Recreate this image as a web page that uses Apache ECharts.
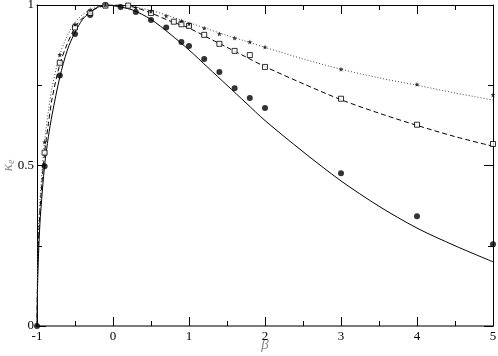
<!DOCTYPE html>
<html>
<head>
<meta charset="utf-8">
<script src="https://cdn.jsdelivr.net/npm/echarts@6/dist/echarts.min.js"></script>
<style>
	html,body{margin:0;padding:0;background:#fff;}
	#chart{width:498px;height:356px;}
</style>
</head>
<body>
<div id="chart"></div>
<script>
	// beta values used for the three theory curves
	var curveX = [-1, -0.99, -0.97, -0.95, -0.9, -0.85, -0.8, -0.7, -0.6, -0.5, -0.4, -0.3, -0.2, -0.1, 0, 0.25, 0.5, 0.75, 1, 1.25, 1.5, 1.75, 2, 2.5, 3, 3.5, 4, 4.5, 5];
	var solidY  = [0, 0.15, 0.28, 0.36, 0.50, 0.59, 0.66, 0.775, 0.86, 0.915, 0.955, 0.978, 0.993, 1.0, 0.998, 0.985, 0.955, 0.91, 0.86, 0.805, 0.75, 0.695, 0.64, 0.543, 0.452, 0.373, 0.305, 0.25, 0.20];
	var dashedY = [0, 0.20, 0.32, 0.40, 0.54, 0.63, 0.71, 0.815, 0.88, 0.93, 0.96, 0.978, 0.992, 0.998, 1.0, 0.995, 0.975, 0.95, 0.928, 0.898, 0.868, 0.838, 0.808, 0.755, 0.705, 0.663, 0.625, 0.59, 0.56];
	var dottedY = [0, 0.22, 0.35, 0.43, 0.575, 0.67, 0.745, 0.845, 0.905, 0.945, 0.97, 0.985, 0.995, 1.0, 1.0, 0.995, 0.983, 0.965, 0.945, 0.925, 0.905, 0.887, 0.868, 0.832, 0.80, 0.773, 0.75, 0.726, 0.704];

	// simulation points
	var circleX = [-1, -0.9, -0.7, -0.5, -0.3, -0.1, 0.1, 0.3, 0.5, 0.7, 0.9, 1.0, 1.2, 1.4, 1.6, 1.8, 2, 3, 4, 5];
	var circleY = [0, 0.498, 0.78, 0.91, 0.969, 1.0, 0.994, 0.978, 0.953, 0.93, 0.885, 0.872, 0.832, 0.791, 0.741, 0.71, 0.679, 0.476, 0.342, 0.255];
	var squareX = [-0.9, -0.7, -0.5, -0.3, -0.1, 0.2, 0.5, 0.8, 0.9, 1.0, 1.2, 1.4, 1.6, 1.8, 2, 3, 4, 5];
	var squareY = [0.54, 0.82, 0.93, 0.975, 0.998, 0.998, 0.975, 0.948, 0.94, 0.935, 0.907, 0.879, 0.857, 0.844, 0.807, 0.708, 0.627, 0.567];
	var starX = [-0.9, -0.7, -0.5, -0.3, -0.1, 0.3, 0.5, 0.7, 0.9, 1.0, 1.2, 1.4, 1.6, 1.8, 2, 3, 4, 5];
	var starY = [0.573, 0.845, 0.94, 0.985, 1.0, 0.992, 0.98, 0.966, 0.95, 0.941, 0.928, 0.91, 0.897, 0.885, 0.869, 0.80, 0.753, 0.72];

	// tick labels
	var xTicks = ['-1', '0', '1', '2', '3', '4', '5'];
	var yTicks = ['0', '0.5', '1'];

	function pairs(xs, ys){
		var out = []
		for (var i = 0; i < xs.length; i++) {
			out.push([xs[i], ys[i]])
		}
		return out
	}

	var font = 'Liberation Serif'
	var starPath = 'path://M0,-10 L2.4,-3.3 9.5,-3.1 3.9,1.3 5.9,8.1 0,4.1 -5.9,8.1 -3.9,1.3 -9.5,-3.1 -2.4,-3.3 Z'

	var chart = echarts.init(document.getElementById('chart'))
	var option = {
		animation: false,
		grid: {
			left: 37,
			right: 5,
			top: 5,
			bottom: 30,
			containLabel: false,
			outerBoundsMode: 'none'
		},
		xAxis: [
			{
				type: 'value',
				min: -1,
				max: 5,
				interval: 1,
				position: 'bottom',
				name: 'β',
				nameLocation: 'middle',
				nameGap: 12,
				nameMoveOverlap: false,
				nameTextStyle: { color: '#8a8a8a', fontFamily: font, fontSize: 15, fontStyle: 'italic' },
				axisLine: { show: true, onZero: false, lineStyle: { color: '#7a7a7a', width: 2 } },
				axisTick: { show: true, inside: true, length: 9, lineStyle: { color: '#000' } },
				minorTick: { show: true, splitNumber: 2, length: 5, lineStyle: { color: '#000' } },
				splitLine: { show: false },
				axisLabel: {
					margin: 4,
					color: '#000',
					fontFamily: font,
					fontSize: 13,
					formatter: function (v) { return xTicks[Math.round(v) + 1] }
				}
			},
			{
				type: 'value',
				min: -1,
				max: 5,
				interval: 1,
				position: 'top',
				axisLine: { show: true, onZero: false, lineStyle: { color: '#000', width: 1 } },
				axisTick: { show: true, inside: true, length: 9, lineStyle: { color: '#000' } },
				minorTick: { show: true, splitNumber: 2, length: 5, lineStyle: { color: '#000' } },
				splitLine: { show: false },
				axisLabel: { show: false }
			}
		],
		yAxis: [
			{
				type: 'value',
				min: 0,
				max: 1,
				interval: 0.5,
				position: 'left',
				name: '{k|κ}{e|e}',
				nameLocation: 'middle',
				nameGap: 21,
				nameMoveOverlap: false,
				nameRotate: 90,
				nameTextStyle: {
					fontSize: 15,
					fontFamily: font,
					color: '#8a8a8a',
					rich: {
						k: { color: '#8a8a8a', fontFamily: font, fontSize: 15, fontStyle: 'italic' },
						e: { color: '#8a8a8a', fontFamily: font, fontSize: 10, fontStyle: 'italic', verticalAlign: 'bottom', padding: [6, 0, 0, 0] }
					}
				},
				axisLine: { show: true, onZero: false, lineStyle: { color: '#000', width: 1 } },
				axisTick: { show: true, inside: true, length: 9, lineStyle: { color: '#000' } },
				minorTick: { show: true, splitNumber: 2, length: 5, lineStyle: { color: '#000' } },
				splitLine: { show: false },
				axisLabel: {
					margin: 3,
					color: '#000',
					fontFamily: font,
					fontSize: 13,
					formatter: function (v) { return yTicks[Math.round(v * 2)] }
				}
			},
			{
				type: 'value',
				min: 0,
				max: 1,
				interval: 0.5,
				position: 'right',
				axisLine: { show: true, onZero: false, lineStyle: { color: '#000', width: 1 } },
				axisTick: { show: true, inside: true, length: 9, lineStyle: { color: '#000' } },
				minorTick: { show: true, splitNumber: 2, length: 5, lineStyle: { color: '#000' } },
				splitLine: { show: false },
				axisLabel: { show: false }
			}
		],
		series: [
			{
				name: 'solid',
				type: 'line',
				data: pairs(curveX, solidY),
				showSymbol: false,
				smooth: 0.3,
				lineStyle: { color: '#000', width: 1 },
				z: 2
			},
			{
				name: 'dashed',
				type: 'line',
				data: pairs(curveX, dashedY),
				showSymbol: false,
				smooth: 0.3,
				lineStyle: { color: '#000', width: 1, type: [5, 3] },
				z: 2
			},
			{
				name: 'dotted',
				type: 'line',
				data: pairs(curveX, dottedY),
				showSymbol: false,
				smooth: 0.3,
				lineStyle: { color: '#444', width: 1, type: [1, 2] },
				z: 2
			},
			{
				name: 'circles',
				type: 'scatter',
				data: pairs(circleX, circleY),
				symbol: 'circle',
				symbolSize: 6,
				itemStyle: { color: '#000' },
				z: 3
			},
			{
				name: 'squares',
				type: 'scatter',
				data: pairs(squareX, squareY),
				symbol: 'rect',
				symbolSize: 5,
				itemStyle: { color: '#fff', borderColor: '#000', borderWidth: 1 },
				z: 3
			},
			{
				name: 'stars',
				type: 'scatter',
				data: pairs(starX, starY),
				symbol: starPath,
				symbolSize: 5,
				itemStyle: { color: '#000' },
				z: 3
			}
		]
	}
	chart.setOption(option, true)
</script>
</body>
</html>
